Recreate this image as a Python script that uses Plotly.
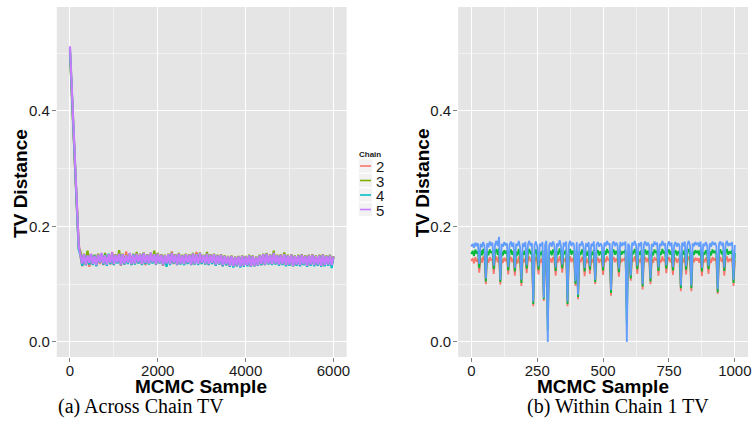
import plotly.graph_objects as go

# ---------------- data ----------------
chain_names = ["2", "3", "4", "5"]
chain_colors = ["#F8766D", "#7CAE00", "#00BFC4", "#C77CFF"]
across_step = 40  # MCMC sample spacing of the read-off values (0..6000)

chain2_tv = [
0.505, 0.445, 0.370, 0.295, 0.220, 0.170, 0.148, 0.131, 0.149, 0.133,
0.147, 0.130, 0.150, 0.134, 0.148, 0.132, 0.152, 0.135, 0.149, 0.133,
0.151, 0.136, 0.148, 0.134, 0.156, 0.133, 0.150, 0.137, 0.149, 0.132,
0.151, 0.134, 0.157, 0.136, 0.150, 0.133, 0.152, 0.135, 0.148, 0.136,
0.150, 0.134, 0.153, 0.133, 0.149, 0.135, 0.152, 0.137, 0.150, 0.133,
0.154, 0.136, 0.150, 0.132, 0.149, 0.134, 0.151, 0.136, 0.157, 0.135,
0.150, 0.133, 0.152, 0.135, 0.149, 0.134, 0.151, 0.136, 0.150, 0.133,
0.152, 0.134, 0.156, 0.136, 0.151, 0.135, 0.149, 0.134, 0.152, 0.133,
0.150, 0.135, 0.151, 0.133, 0.148, 0.134, 0.150, 0.131, 0.148, 0.133,
0.147, 0.130, 0.148, 0.132, 0.146, 0.131, 0.147, 0.130, 0.148, 0.131,
0.147, 0.132, 0.149, 0.130, 0.148, 0.131, 0.146, 0.132, 0.149, 0.133,
0.151, 0.133, 0.152, 0.135, 0.150, 0.134, 0.153, 0.135, 0.149, 0.133,
0.150, 0.134, 0.151, 0.132, 0.149, 0.133, 0.150, 0.131, 0.148, 0.133,
0.149, 0.132, 0.150, 0.134, 0.148, 0.131, 0.149, 0.133, 0.150, 0.132,
0.148, 0.133, 0.149, 0.131, 0.150, 0.132, 0.148, 0.133, 0.149, 0.132,
0.147]

chain3_tv = [
0.500, 0.430, 0.358, 0.284, 0.210, 0.162, 0.157, 0.137, 0.153, 0.136,
0.158, 0.137, 0.152, 0.136, 0.151, 0.135, 0.153, 0.137, 0.152, 0.137,
0.154, 0.136, 0.151, 0.138, 0.153, 0.136, 0.152, 0.139, 0.159, 0.137,
0.153, 0.137, 0.151, 0.138, 0.152, 0.136, 0.153, 0.137, 0.156, 0.139,
0.153, 0.136, 0.155, 0.138, 0.152, 0.137, 0.154, 0.139, 0.158, 0.136,
0.154, 0.138, 0.152, 0.135, 0.151, 0.137, 0.153, 0.136, 0.155, 0.138,
0.152, 0.135, 0.154, 0.137, 0.151, 0.136, 0.153, 0.138, 0.152, 0.135,
0.154, 0.137, 0.153, 0.136, 0.155, 0.138, 0.151, 0.137, 0.156, 0.136,
0.152, 0.138, 0.153, 0.135, 0.151, 0.137, 0.152, 0.134, 0.150, 0.136,
0.149, 0.133, 0.150, 0.132, 0.148, 0.134, 0.149, 0.132, 0.150, 0.133,
0.149, 0.134, 0.151, 0.132, 0.150, 0.133, 0.148, 0.134, 0.151, 0.136,
0.153, 0.135, 0.154, 0.137, 0.152, 0.136, 0.158, 0.137, 0.151, 0.135,
0.152, 0.136, 0.155, 0.134, 0.151, 0.135, 0.152, 0.133, 0.150, 0.135,
0.151, 0.134, 0.152, 0.136, 0.150, 0.133, 0.151, 0.135, 0.152, 0.134,
0.150, 0.135, 0.151, 0.133, 0.152, 0.134, 0.150, 0.135, 0.151, 0.134,
0.149]

chain4_tv = [
0.508, 0.435, 0.360, 0.286, 0.212, 0.160, 0.150, 0.132, 0.151, 0.133,
0.149, 0.134, 0.152, 0.133, 0.150, 0.131, 0.150, 0.137, 0.153, 0.134,
0.151, 0.132, 0.153, 0.135, 0.150, 0.133, 0.150, 0.136, 0.152, 0.133,
0.151, 0.134, 0.149, 0.135, 0.153, 0.133, 0.152, 0.134, 0.151, 0.136,
0.151, 0.133, 0.153, 0.135, 0.150, 0.134, 0.152, 0.136, 0.151, 0.134,
0.152, 0.136, 0.150, 0.133, 0.149, 0.130, 0.151, 0.133, 0.153, 0.136,
0.150, 0.133, 0.152, 0.134, 0.149, 0.133, 0.151, 0.135, 0.150, 0.133,
0.152, 0.134, 0.151, 0.133, 0.153, 0.135, 0.149, 0.134, 0.152, 0.133,
0.150, 0.135, 0.151, 0.132, 0.149, 0.134, 0.150, 0.131, 0.148, 0.133,
0.147, 0.130, 0.148, 0.129, 0.146, 0.131, 0.147, 0.129, 0.148, 0.130,
0.147, 0.131, 0.149, 0.130, 0.148, 0.131, 0.146, 0.132, 0.149, 0.133,
0.151, 0.133, 0.152, 0.134, 0.150, 0.133, 0.153, 0.134, 0.149, 0.132,
0.150, 0.133, 0.151, 0.131, 0.149, 0.132, 0.150, 0.131, 0.148, 0.132,
0.149, 0.131, 0.150, 0.133, 0.148, 0.130, 0.149, 0.132, 0.150, 0.131,
0.148, 0.132, 0.149, 0.130, 0.150, 0.131, 0.148, 0.132, 0.149, 0.128,
0.147]

chain5_tv = [
0.512, 0.438, 0.362, 0.288, 0.214, 0.166, 0.151, 0.136, 0.152, 0.134,
0.150, 0.137, 0.153, 0.135, 0.149, 0.133, 0.151, 0.138, 0.154, 0.136,
0.150, 0.134, 0.152, 0.137, 0.155, 0.135, 0.151, 0.138, 0.153, 0.134,
0.152, 0.136, 0.150, 0.137, 0.154, 0.135, 0.151, 0.136, 0.153, 0.138,
0.152, 0.135, 0.154, 0.137, 0.151, 0.136, 0.155, 0.138, 0.152, 0.135,
0.153, 0.137, 0.151, 0.134, 0.150, 0.136, 0.152, 0.135, 0.154, 0.137,
0.151, 0.134, 0.153, 0.136, 0.150, 0.135, 0.152, 0.137, 0.151, 0.134,
0.153, 0.136, 0.152, 0.135, 0.154, 0.137, 0.150, 0.136, 0.153, 0.135,
0.151, 0.137, 0.152, 0.134, 0.150, 0.136, 0.151, 0.133, 0.149, 0.135,
0.148, 0.132, 0.149, 0.131, 0.147, 0.133, 0.148, 0.131, 0.149, 0.132,
0.148, 0.133, 0.150, 0.131, 0.149, 0.132, 0.147, 0.133, 0.150, 0.135,
0.152, 0.134, 0.153, 0.136, 0.151, 0.135, 0.154, 0.136, 0.150, 0.134,
0.151, 0.135, 0.152, 0.133, 0.150, 0.134, 0.151, 0.132, 0.149, 0.134,
0.150, 0.133, 0.151, 0.135, 0.149, 0.132, 0.150, 0.134, 0.151, 0.133,
0.149, 0.134, 0.150, 0.132, 0.151, 0.133, 0.149, 0.134, 0.150, 0.133,
0.148]

within_colors = ["#F8766D", "#00BA38", "#619CFF"]
within_step = 5  # MCMC sample spacing of the read-off values (0..1000)

within_red = [
0.140, 0.145, 0.136, 0.147, 0.139, 0.144, 0.120, 0.146, 0.137, 0.148,
0.140, 0.100, 0.145, 0.137, 0.147, 0.141, 0.144, 0.118, 0.142, 0.148,
0.138, 0.147, 0.099, 0.144, 0.137, 0.146, 0.140, 0.145, 0.117, 0.141,
0.147, 0.138, 0.145, 0.115, 0.143, 0.136, 0.148, 0.135, 0.097, 0.144,
0.138, 0.146, 0.119, 0.142, 0.148, 0.139, 0.144, 0.062, 0.140, 0.147,
0.137, 0.117, 0.143, 0.138, 0.146, 0.071, 0.142, 0.148, 0.040, 0.139,
0.145, 0.137, 0.147, 0.141, 0.115, 0.144, 0.138, 0.148, 0.140, 0.120,
0.145, 0.139, 0.147, 0.062, 0.142, 0.148, 0.138, 0.145, 0.141, 0.097,
0.146, 0.074, 0.143, 0.138, 0.147, 0.140, 0.114, 0.144, 0.137, 0.146,
0.118, 0.143, 0.138, 0.147, 0.100, 0.141, 0.146, 0.137, 0.144, 0.139,
0.116, 0.145, 0.138, 0.148, 0.141, 0.144, 0.080, 0.142, 0.147, 0.138,
0.145, 0.139, 0.113, 0.146, 0.138, 0.144, 0.141, 0.147, 0.060, 0.143,
0.138, 0.106, 0.145, 0.139, 0.148, 0.141, 0.118, 0.144, 0.138, 0.146,
0.091, 0.142, 0.147, 0.138, 0.145, 0.140, 0.100, 0.143, 0.137, 0.147,
0.141, 0.145, 0.115, 0.143, 0.138, 0.148, 0.140, 0.144, 0.119, 0.142,
0.147, 0.138, 0.145, 0.116, 0.141, 0.146, 0.137, 0.144, 0.140, 0.088,
0.145, 0.138, 0.147, 0.117, 0.142, 0.148, 0.139, 0.088, 0.144, 0.138,
0.146, 0.141, 0.145, 0.137, 0.147, 0.114, 0.143, 0.138, 0.146, 0.140,
0.118, 0.144, 0.137, 0.147, 0.141, 0.145, 0.138, 0.083, 0.143, 0.147,
0.139, 0.145, 0.115, 0.142, 0.148, 0.138, 0.144, 0.140, 0.146, 0.097,
0.141]

within_green = [
0.152, 0.158, 0.149, 0.160, 0.153, 0.157, 0.128, 0.159, 0.150, 0.161,
0.153, 0.105, 0.158, 0.150, 0.160, 0.154, 0.157, 0.126, 0.155, 0.161,
0.151, 0.162, 0.104, 0.157, 0.150, 0.159, 0.153, 0.158, 0.124, 0.154,
0.160, 0.151, 0.158, 0.122, 0.156, 0.150, 0.161, 0.149, 0.102, 0.157,
0.151, 0.159, 0.127, 0.155, 0.161, 0.152, 0.157, 0.066, 0.153, 0.160,
0.150, 0.125, 0.156, 0.151, 0.159, 0.074, 0.155, 0.161, 0.020, 0.152,
0.158, 0.150, 0.160, 0.154, 0.123, 0.157, 0.151, 0.162, 0.153, 0.128,
0.158, 0.152, 0.160, 0.066, 0.155, 0.161, 0.151, 0.158, 0.154, 0.101,
0.159, 0.078, 0.156, 0.151, 0.160, 0.153, 0.122, 0.157, 0.150, 0.159,
0.125, 0.156, 0.151, 0.160, 0.104, 0.154, 0.159, 0.150, 0.157, 0.152,
0.124, 0.158, 0.151, 0.161, 0.154, 0.157, 0.085, 0.155, 0.160, 0.151,
0.158, 0.152, 0.121, 0.159, 0.151, 0.157, 0.154, 0.160, 0.030, 0.156,
0.151, 0.110, 0.158, 0.152, 0.161, 0.154, 0.126, 0.157, 0.151, 0.159,
0.096, 0.155, 0.160, 0.151, 0.158, 0.153, 0.105, 0.156, 0.150, 0.160,
0.154, 0.158, 0.123, 0.156, 0.151, 0.161, 0.153, 0.157, 0.127, 0.155,
0.160, 0.151, 0.158, 0.124, 0.154, 0.159, 0.150, 0.157, 0.153, 0.093,
0.158, 0.151, 0.160, 0.125, 0.155, 0.161, 0.152, 0.093, 0.157, 0.151,
0.159, 0.154, 0.158, 0.150, 0.160, 0.122, 0.156, 0.151, 0.159, 0.153,
0.126, 0.157, 0.150, 0.160, 0.154, 0.158, 0.151, 0.086, 0.156, 0.160,
0.152, 0.158, 0.123, 0.155, 0.161, 0.151, 0.157, 0.153, 0.159, 0.102,
0.154]

within_blue = [
0.165, 0.170, 0.163, 0.172, 0.166, 0.171, 0.135, 0.170, 0.164, 0.173,
0.166, 0.110, 0.171, 0.164, 0.174, 0.167, 0.172, 0.132, 0.169, 0.175,
0.166, 0.182, 0.108, 0.170, 0.165, 0.173, 0.167, 0.171, 0.130, 0.168,
0.174, 0.165, 0.172, 0.128, 0.170, 0.166, 0.175, 0.164, 0.108, 0.171,
0.165, 0.173, 0.133, 0.169, 0.175, 0.166, 0.171, 0.070, 0.168, 0.174,
0.165, 0.131, 0.170, 0.166, 0.173, 0.076, 0.169, 0.175, 0.000, 0.167,
0.172, 0.165, 0.174, 0.168, 0.129, 0.171, 0.165, 0.176, 0.167, 0.134,
0.172, 0.166, 0.174, 0.070, 0.169, 0.175, 0.166, 0.172, 0.168, 0.105,
0.173, 0.082, 0.170, 0.166, 0.174, 0.167, 0.128, 0.171, 0.165, 0.173,
0.131, 0.170, 0.166, 0.174, 0.108, 0.168, 0.173, 0.165, 0.171, 0.167,
0.130, 0.172, 0.166, 0.175, 0.168, 0.171, 0.090, 0.169, 0.174, 0.166,
0.172, 0.167, 0.127, 0.173, 0.166, 0.171, 0.168, 0.174, 0.000, 0.170,
0.166, 0.115, 0.172, 0.167, 0.175, 0.168, 0.132, 0.171, 0.166, 0.173,
0.100, 0.169, 0.174, 0.166, 0.172, 0.167, 0.110, 0.170, 0.165, 0.174,
0.168, 0.172, 0.129, 0.170, 0.166, 0.175, 0.167, 0.171, 0.133, 0.169,
0.174, 0.166, 0.172, 0.130, 0.168, 0.173, 0.165, 0.171, 0.167, 0.098,
0.172, 0.166, 0.174, 0.131, 0.169, 0.175, 0.167, 0.098, 0.171, 0.166,
0.173, 0.168, 0.172, 0.165, 0.174, 0.128, 0.170, 0.166, 0.173, 0.167,
0.132, 0.171, 0.165, 0.174, 0.168, 0.172, 0.166, 0.092, 0.170, 0.174,
0.167, 0.172, 0.129, 0.169, 0.175, 0.166, 0.171, 0.167, 0.173, 0.108,
0.168]

left_xticks = [0, 2000, 4000, 6000]
right_xticks = [0, 250, 500, 750, 1000]
y_ticks = [0.0, 0.2, 0.4]
y_ticklabels = ["0.0", "0.2", "0.4"]
legend_title = "Chain"
caption_a = "(a) Across Chain TV"
caption_b = "(b) Within Chain 1 TV"
x_title = "MCMC Sample"
y_title = "TV Distance"

# ---------------- figure ----------------
W, H = 755, 442
fig = go.Figure()

across = [chain2_tv, chain3_tv, chain4_tv, chain5_tv]
for name, col, vals in zip(chain_names, chain_colors, across):
    xs = [i * across_step for i in range(len(vals))]
    fig.add_trace(go.Scatter(x=xs, y=vals, mode="lines", name=name,
                             line=dict(color=col, width=2.2),
                             xaxis="x", yaxis="y", showlegend=False))

for col, vals in zip(within_colors, [within_red, within_green, within_blue]):
    xs = [i * within_step for i in range(len(vals))]
    fig.add_trace(go.Scatter(x=xs, y=vals, mode="lines",
                             line=dict(color=col, width=1.8),
                             xaxis="x2", yaxis="y2", showlegend=False))

def px(x):
    return x / W

def py(y):
    return 1 - y / H

tickfont = dict(family="Liberation Sans, Arial, sans-serif", size=15, color="#1a1a1a")
common_axis = dict(showline=False, zeroline=False, ticks="outside", ticklen=4,
                   tickwidth=1, tickcolor="#808080", gridcolor="#FFFFFF",
                   gridwidth=1.2, tickfont=tickfont, showgrid=True)

y_dom = [py(357), py(7)]
fig.update_layout(
    width=W, height=H, margin=dict(l=0, r=0, t=0, b=0),
    paper_bgcolor="white", plot_bgcolor="#E5E5E5",
    xaxis=dict(domain=[px(57), px(348)], range=[-300, 6300],
               tickvals=left_xticks, anchor="y", ticklabelstandoff=-4,
               minor=dict(tickvals=[1000, 3000, 5000], showgrid=True,
                          gridcolor="#F2F2F2", gridwidth=1, ticks=""),
               **common_axis),
    yaxis=dict(domain=y_dom, range=[-0.026, 0.58], tickvals=y_ticks,
               ticktext=y_ticklabels, anchor="x", ticklabelstandoff=-1,
               minor=dict(tickvals=[0.1, 0.3, 0.5], showgrid=True,
                          gridcolor="#F2F2F2", gridwidth=1, ticks=""),
               **common_axis),
    xaxis2=dict(domain=[px(460), px(751)], range=[-50, 1050],
                tickvals=right_xticks, anchor="y2", ticklabelstandoff=-4,
                minor=dict(tickvals=[125, 375, 625, 875], showgrid=True,
                           gridcolor="#F2F2F2", gridwidth=1, ticks=""),
                **common_axis),
    yaxis2=dict(domain=y_dom, range=[-0.026, 0.58], tickvals=y_ticks,
                ticktext=y_ticklabels, anchor="x2", ticklabelstandoff=-1,
                minor=dict(tickvals=[0.1, 0.3, 0.5], showgrid=True,
                           gridcolor="#F2F2F2", gridwidth=1, ticks=""),
                **common_axis),
    showlegend=False,
)

# legend (drawn as a guide box: keys + labels)
leg_x0, leg_top, key_size, key_gap = 360, 159, 14, 14.5
fig.add_annotation(xref="paper", yref="paper", x=px(358), y=py(154),
                   text="<b>%s</b>" % legend_title, showarrow=False,
                   xanchor="left", yanchor="middle",
                   font=dict(family="Liberation Sans, Arial", size=8, color="#1a1a1a"))
for i, (name, col) in enumerate(zip(chain_names, chain_colors)):
    top = leg_top + i * key_gap
    fig.add_shape(type="rect", xref="paper", yref="paper",
                  x0=px(leg_x0), x1=px(leg_x0 + key_size),
                  y0=py(top + key_size), y1=py(top),
                  fillcolor="#F2F2F2", line=dict(color="white", width=0.8))
    fig.add_shape(type="line", xref="paper", yref="paper",
                  x0=px(leg_x0 + 1.5), x1=px(leg_x0 + key_size - 1.5),
                  y0=py(top + key_size / 2), y1=py(top + key_size / 2),
                  line=dict(color=col, width=1.6))
    fig.add_annotation(xref="paper", yref="paper",
                       x=px(leg_x0 + key_size + 1.5), y=py(top + key_size / 2 + 0.5),
                       text=name, showarrow=False, xanchor="left", yanchor="middle",
                       font=dict(family="Liberation Sans, Arial", size=15, color="#1a1a1a"))

title_font = dict(family="Liberation Sans, Arial, sans-serif", size=19, color="#000000")
cap_font = dict(family="Liberation Serif, DejaVu Serif, serif", size=20, color="#000000")
annots = [
    dict(text="<b>%s</b>" % x_title, x=px(202), y=py(386), font=title_font),
    dict(text="<b>%s</b>" % x_title, x=px(605), y=py(386), font=title_font),
    dict(text="<b>%s</b>" % y_title, x=px(20), y=py(183), font=title_font, textangle=-90),
    dict(text="<b>%s</b>" % y_title, x=px(424), y=py(183), font=title_font, textangle=-90),
    dict(text=caption_a, x=px(142), y=py(406), font=cap_font),
    dict(text=caption_b, x=px(620), y=py(406), font=cap_font),
]
for a in annots:
    fig.add_annotation(xref="paper", yref="paper", showarrow=False,
                       xanchor="center", yanchor="middle", **a)

fig.write_html("out.html", config={"displayModeBar": False},
               post_script="document.body.style.margin='0';document.body.style.padding='0';")
